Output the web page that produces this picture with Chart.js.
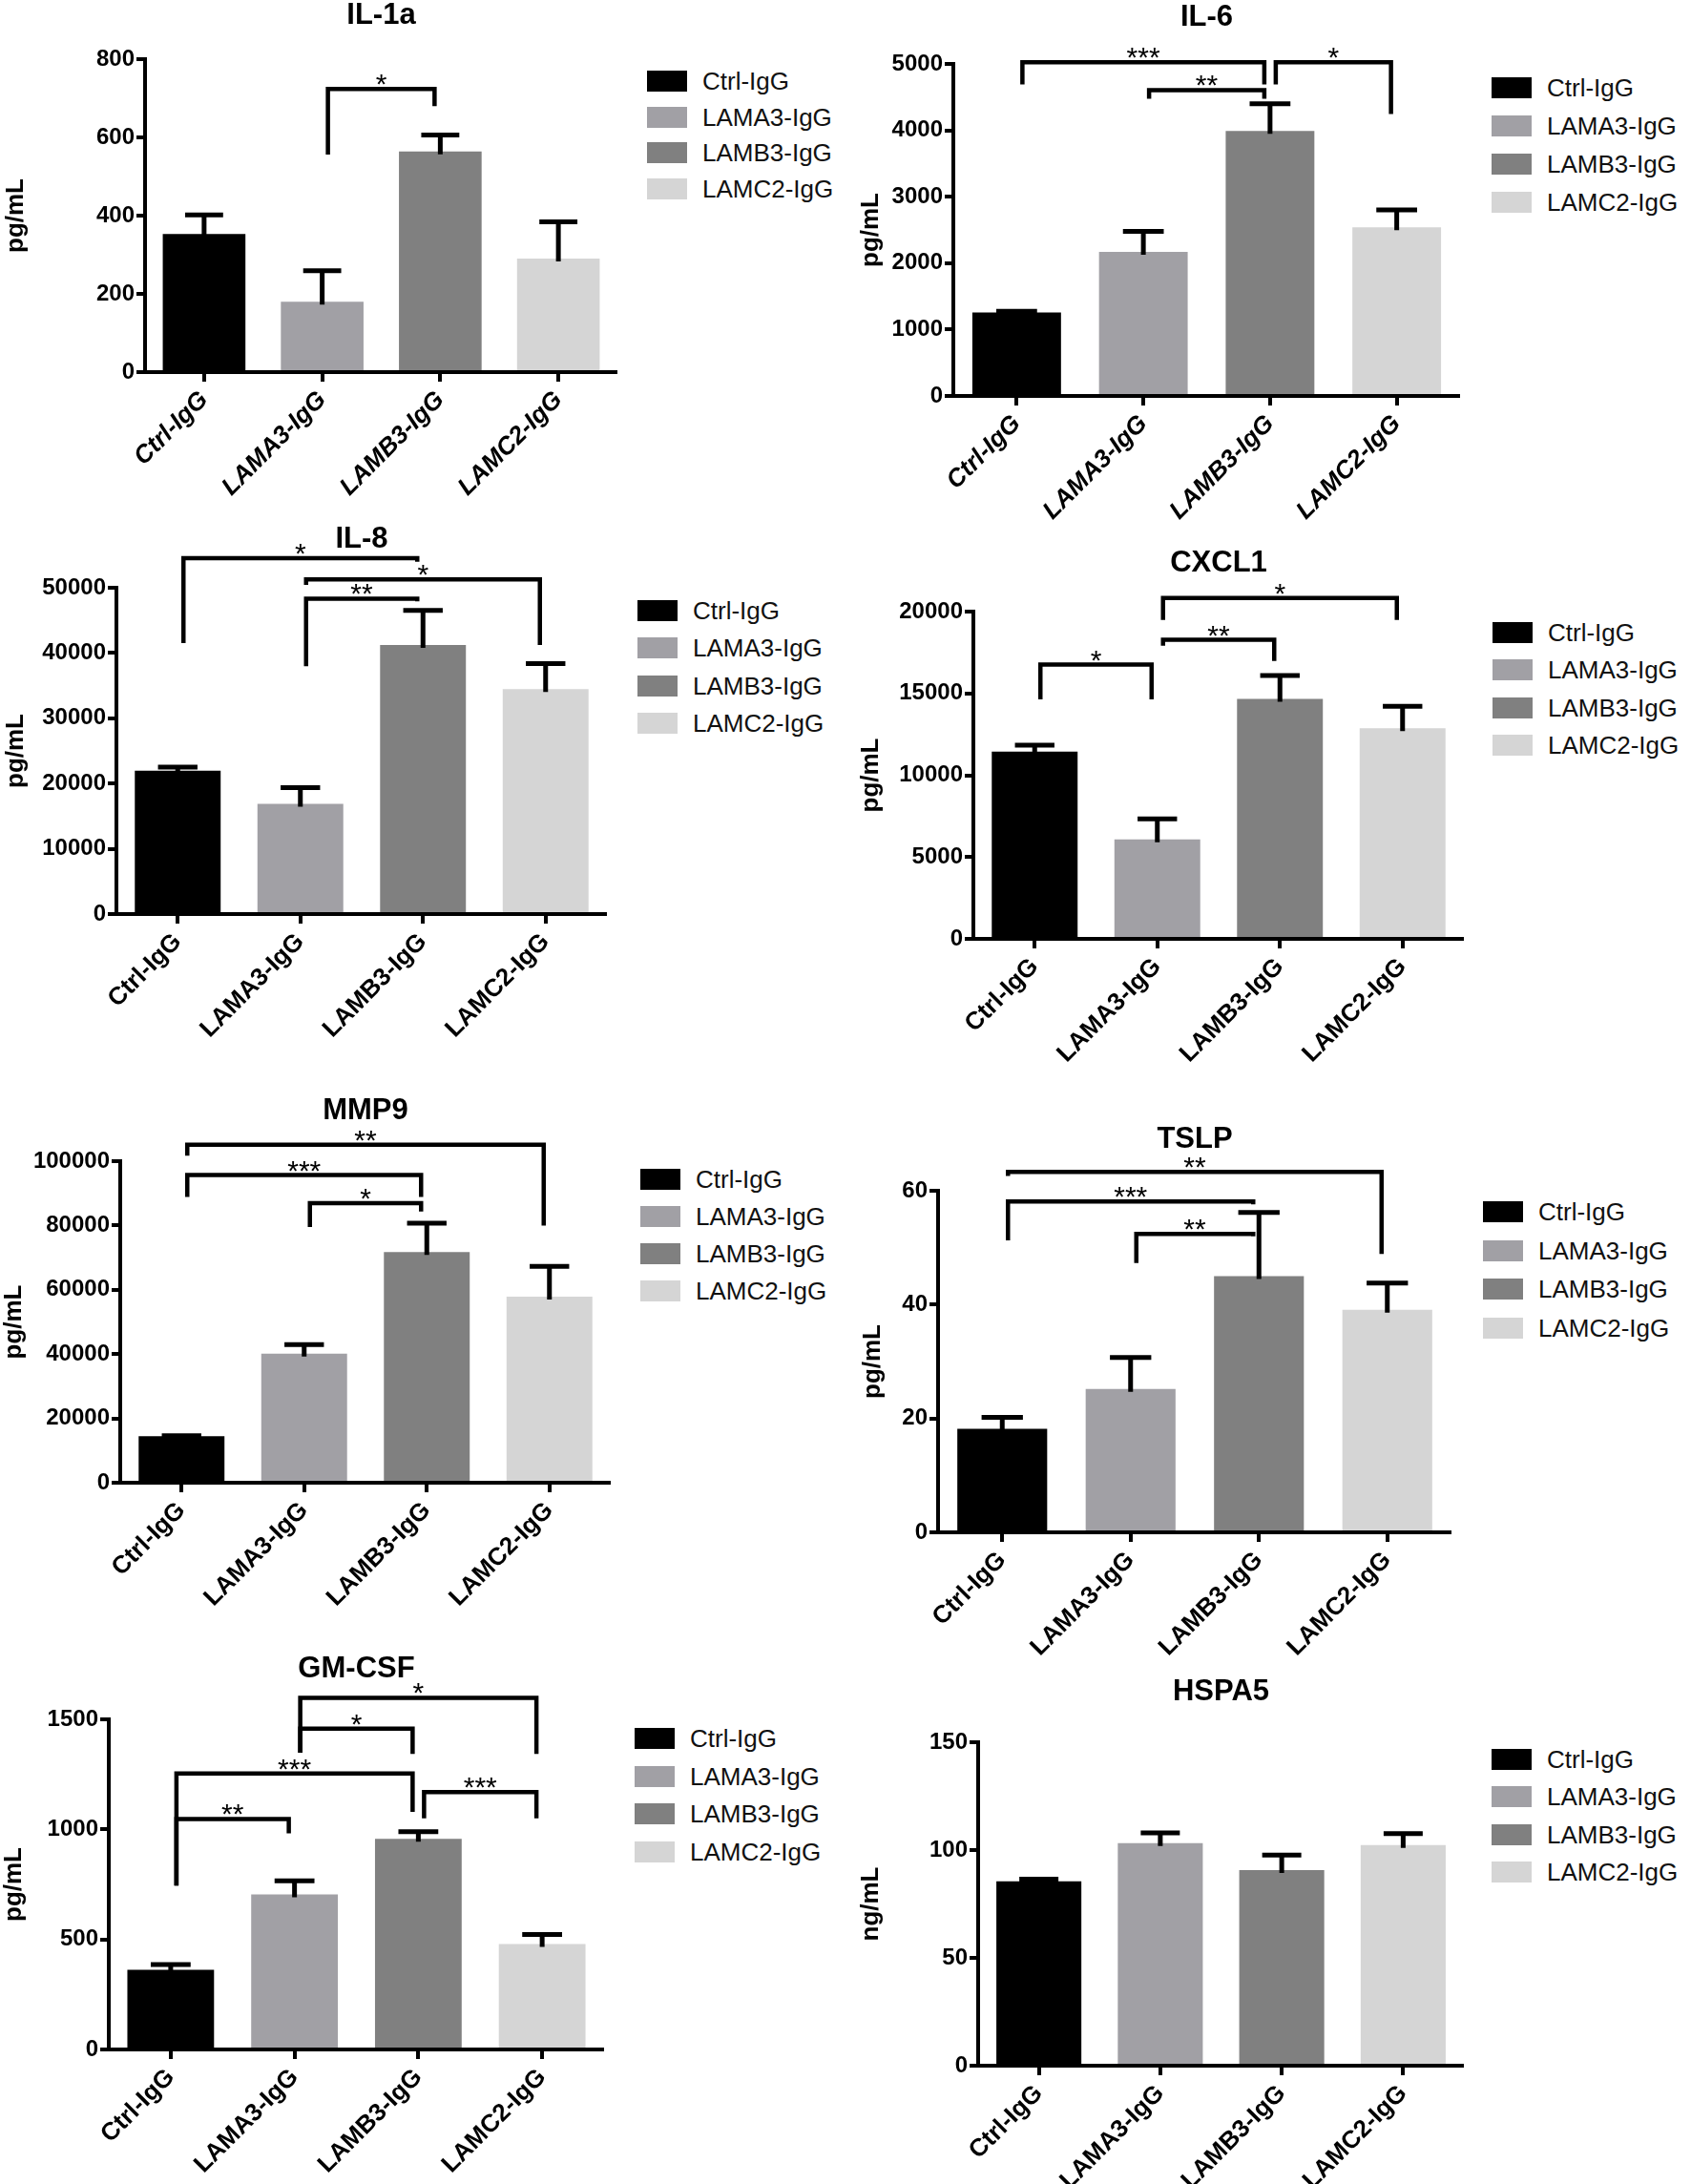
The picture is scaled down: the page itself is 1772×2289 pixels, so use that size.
<!DOCTYPE html>
<html>
<head>
<meta charset="utf-8">
<script src="https://cdn.jsdelivr.net/npm/chart.js@4.4.1/dist/chart.umd.min.js"></script>
<style>
  body { margin: 0; background: #fff; }
  #page { position: relative; width: 1772px; height: 2289px; overflow: hidden; font-family: "Liberation Sans", Arial, sans-serif; }
  canvas { position: absolute; }
  .legend { position: absolute; }
  .item { position: absolute; left: 0; width: 260px; height: 22px; }
  .sw { position: absolute; left: 0; top: 0; width: 42px; height: 22px; }
  .lab { position: absolute; left: 58px; top: 11px; transform: translateY(-50%); font-size: 26px; line-height: 1; color: #111; white-space: nowrap; }
</style>
</head>
<body>
<div id="page"></div>
<script>
const groups = ['Ctrl-IgG', 'LAMA3-IgG', 'LAMB3-IgG', 'LAMC2-IgG'];

// means and upper error (SEM) per marker
const il1aMean = [353, 180, 564, 290];
const il1aErr = [49, 79, 42, 94];
const il6Mean = [1256, 2169, 3990, 2538];
const il6Err = [19, 308, 410, 262];
const il8Mean = [21955, 16872, 41229, 34469];
const il8Err = [559, 2513, 5307, 3911];
const cxcl1Mean = [11441, 6078, 14659, 12872];
const cxcl1Err = [403, 1252, 1430, 1340];
const mmp9Mean = [14432, 40114, 71705, 57841];
const mmp9Err = [218, 2841, 8977, 9432];
const tslpMean = [18.2, 25.2, 45.0, 39.1];
const tslpErr = [2.0, 5.5, 11.2, 4.7];
const gmcsfMean = [362, 704, 957, 479];
const gmcsfErr = [24, 62, 33, 43];
const hspa5Mean = [85.5, 103.2, 90.7, 102.3];
const hspa5Err = [1.0, 4.8, 7.0, 5.3];

// y axis [min, max, step]
const il1aAxis = [0, 800, 200];
const il6Axis = [0, 5000, 1000];
const il8Axis = [0, 50000, 10000];
const cxcl1Axis = [0, 20000, 5000];
const mmp9Axis = [0, 100000, 20000];
const tslpAxis = [0, 60, 20];
const gmcsfAxis = [0, 1500, 500];
const hspa5Axis = [0, 150, 50];

// significance brackets: [from, to, left leg end, bar height, right leg end, label]
const il1aSig = [[1, 2, 556, 724, 680, '*']];
const il6Sig = [[0, 2, 4692, 5026, 4692, '***'], [1, 2, 4477, 4605, 4477, '**'], [2, 3, 4692, 5026, 4246, '*']];
const il8Sig = [[0, 2, 41508, 54525, 53966, '*'], [1, 3, 50447, 51285, 41229, '*'], [1, 2, 37989, 48324, 47933, '**']];
const cxcl1Sig = [[0, 1, 14637, 16760, 14637, '*'], [1, 2, 17922, 18279, 16983, '**'], [1, 3, 19486, 20827, 19486, '*']];
const mmp9Sig = [[0, 3, 101705, 105114, 80000, '**'], [0, 2, 88864, 95682, 88864, '***'], [1, 2, 79545, 86932, 84318, '*']];
const tslpSig = [[0, 3, 62.6, 63.3, 48.9, '**'], [0, 2, 51.3, 58.1, 57.6, '***'], [1, 2, 47.3, 52.4, 52.0, '**']];
const gmcsfSig = [[1, 3, 1348, 1598, 1343, '*'], [1, 2, 1348, 1458, 1343, '*'], [0, 2, 745, 1254, 1079, '***'], [0, 1, 745, 1047, 982, '**'], [2, 3, 1050, 1169, 1050, '***']];
const hspa5Sig = [];

const barColors = ['#000000', '#a1a0a5', '#808080', '#d5d5d5'];
const FONT = '"Liberation Sans", Arial, sans-serif';

const panels = [
  { name: 'IL-1a', unit: 'pg/mL', mean: il1aMean, err: il1aErr, axis: il1aAxis, sig: il1aSig, italic: true,
    box: { yAxisX: 152, xEnd: 647, top: 62, bottom: 390, titleY: 16, yTitleX: 17 }, leg: { x: 678, y: 85, dy: 37.5 } },
  { name: 'IL-6', unit: 'pg/mL', mean: il6Mean, err: il6Err, axis: il6Axis, sig: il6Sig, italic: true,
    box: { yAxisX: 999, xEnd: 1530, top: 67, bottom: 415, titleY: 18, yTitleX: 913 }, leg: { x: 1563, y: 92, dy: 40 } },
  { name: 'IL-8', unit: 'pg/mL', mean: il8Mean, err: il8Err, axis: il8Axis, sig: il8Sig,
    box: { yAxisX: 122, xEnd: 636, top: 616, bottom: 958, titleY: 565, yTitleX: 17 }, leg: { x: 668, y: 640, dy: 39.3 } },
  { name: 'CXCL1', unit: 'pg/mL', mean: cxcl1Mean, err: cxcl1Err, axis: cxcl1Axis, sig: cxcl1Sig,
    box: { yAxisX: 1020, xEnd: 1534, top: 641, bottom: 984, titleY: 590, yTitleX: 913 }, leg: { x: 1564, y: 663, dy: 39.3 } },
  { name: 'MMP9', unit: 'pg/mL', mean: mmp9Mean, err: mmp9Err, axis: mmp9Axis, sig: mmp9Sig,
    box: { yAxisX: 126, xEnd: 640, top: 1217, bottom: 1554, titleY: 1164, yTitleX: 15 }, leg: { x: 671, y: 1236, dy: 39 } },
  { name: 'TSLP', unit: 'pg/mL', mean: tslpMean, err: tslpErr, axis: tslpAxis, sig: tslpSig,
    box: { yAxisX: 983, xEnd: 1521, top: 1248, bottom: 1606, titleY: 1194, yTitleX: 915 }, leg: { x: 1554, y: 1270, dy: 40.7 } },
  { name: 'GM-CSF', unit: 'pg/mL', mean: gmcsfMean, err: gmcsfErr, axis: gmcsfAxis, sig: gmcsfSig,
    box: { yAxisX: 114, xEnd: 633, top: 1802, bottom: 2148, titleY: 1749, yTitleX: 15 }, leg: { x: 665, y: 1822, dy: 39.7 } },
  { name: 'HSPA5', unit: 'ng/mL', mean: hspa5Mean, err: hspa5Err, axis: hspa5Axis, sig: hspa5Sig,
    box: { yAxisX: 1025, xEnd: 1534, top: 1826, bottom: 2165, titleY: 1773, yTitleX: 913 }, leg: { x: 1563, y: 1844, dy: 39.3 } }
];

const page = document.getElementById('page');
const X_HEIGHT = 150;

function errorBars(err) {
  return {
    id: 'errorBars',
    afterDatasetsDraw(chart) {
      const ctx = chart.ctx;
      const y = chart.scales.y;
      const vals = chart.data.datasets[0].data;
      ctx.save();
      ctx.strokeStyle = '#000';
      ctx.lineWidth = 5;
      chart.getDatasetMeta(0).data.forEach((bar, i) => {
        const yTop = y.getPixelForValue(vals[i] + err[i]);
        const half = bar.width * 0.23;
        ctx.beginPath();
        ctx.moveTo(bar.x, bar.y + 3);
        ctx.lineTo(bar.x, yTop);
        ctx.moveTo(bar.x - half, yTop);
        ctx.lineTo(bar.x + half, yTop);
        ctx.stroke();
      });
      ctx.restore();
    }
  };
}

function brackets(sig) {
  return {
    id: 'brackets',
    afterDraw(chart) {
      const { ctx, scales: { x, y } } = chart;
      ctx.save();
      ctx.strokeStyle = '#000';
      ctx.fillStyle = '#000';
      ctx.lineWidth = 4.5;
      ctx.font = '30px ' + FONT;
      ctx.textAlign = 'center';
      ctx.textBaseline = 'alphabetic';
      sig.forEach(([a, b, l, t, r, lab]) => {
        const x1 = x.getPixelForValue(a) + 6;
        const x2 = x.getPixelForValue(b) - 6;
        const yt = y.getPixelForValue(t);
        ctx.beginPath();
        ctx.moveTo(x1, y.getPixelForValue(l));
        ctx.lineTo(x1, yt);
        ctx.lineTo(x2, yt);
        ctx.lineTo(x2, y.getPixelForValue(r));
        ctx.stroke();
        ctx.fillText(lab, (x1 + x2) / 2, yt + 5);
      });
      ctx.restore();
    }
  };
}

panels.forEach(p => {
  const b = p.box;
  const cLeft = Math.round(b.yTitleX - 16);
  const cTop = Math.round(b.titleY - 19.5);
  const w = b.xEnd - cLeft;
  const h = Math.round(b.bottom - cTop + X_HEIGHT);

  const canvas = document.createElement('canvas');
  canvas.width = w;
  canvas.height = h;
  canvas.style.left = cLeft + 'px';
  canvas.style.top = cTop + 'px';
  canvas.style.width = w + 'px';
  canvas.style.height = h + 'px';
  page.appendChild(canvas);

  new Chart(canvas, {
    type: 'bar',
    data: {
      labels: groups,
      datasets: [{
        data: p.mean,
        backgroundColor: barColors,
        borderWidth: 0,
        barPercentage: 0.7,
        categoryPercentage: 1
      }]
    },
    options: {
      responsive: false,
      animation: false,
      devicePixelRatio: 1,
      layout: { padding: 0 },
      plugins: {
        legend: { display: false },
        tooltip: { enabled: false },
        title: {
          display: true,
          text: p.name,
          fullSize: false,
          color: '#000',
          font: { size: 31, weight: 'bold', family: FONT, lineHeight: 1 },
          padding: { top: 4, bottom: b.top - cTop - 35 }
        }
      },
      scales: {
        x: {
          z: 1,
          offset: true,
          grid: { display: true, offset: false, drawOnChartArea: false, drawTicks: true, tickLength: 10, lineWidth: 4, color: '#000' },
          border: { display: true, width: 4, color: '#000' },
          ticks: {
            color: '#000',
            autoSkip: false,
            minRotation: 45,
            maxRotation: 45,
            padding: 4,
            font: { size: 26, weight: 'bold', style: p.italic ? 'italic' : 'normal', family: FONT }
          },
          afterFit: s => { s.height = X_HEIGHT; }
        },
        y: {
          z: 1,
          min: p.axis[0],
          max: p.axis[1],
          grid: { display: true, drawOnChartArea: false, drawTicks: true, tickLength: 9, lineWidth: 4, color: '#000' },
          border: { display: true, width: 4, color: '#000' },
          ticks: {
            stepSize: p.axis[2],
            color: '#000',
            padding: 2,
            font: { size: 24, weight: 'bold', family: FONT },
            callback: v => String(v)
          },
          title: {
            display: true,
            text: p.unit,
            color: '#000',
            padding: 0,
            font: { size: 26, weight: 'bold', family: FONT, lineHeight: 1.2 }
          },
          afterFit: s => { s.width = b.yAxisX - cLeft; }
        }
      }
    },
    plugins: [errorBars(p.err), brackets(p.sig)]
  });

  const leg = document.createElement('div');
  leg.className = 'legend';
  leg.style.left = p.leg.x + 'px';
  leg.style.top = (p.leg.y - 11) + 'px';
  groups.forEach((g, i) => {
    const item = document.createElement('div');
    item.className = 'item';
    item.style.top = (i * p.leg.dy) + 'px';
    item.innerHTML = '<div class="sw" style="background:' + barColors[i] + '"></div><div class="lab">' + g + '</div>';
    leg.appendChild(item);
  });
  page.appendChild(leg);
});
</script>
</body>
</html>
